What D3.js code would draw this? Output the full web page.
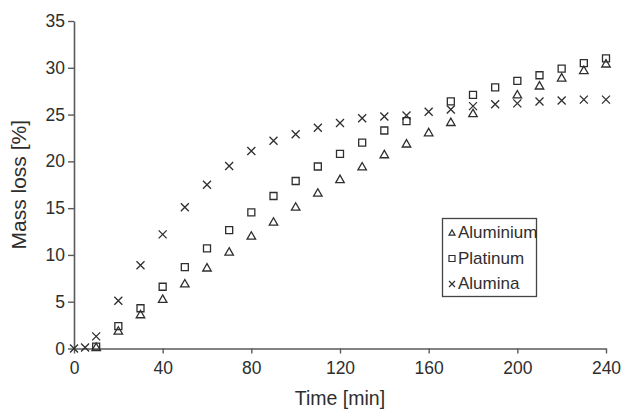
<!DOCTYPE html>
<html>
<head>
<meta charset="utf-8">
<script src="https://cdn.jsdelivr.net/npm/d3@7"></script>
<style>
  html, body { margin: 0; padding: 0; background: #fff; }
  svg { display: block; font-family: "Liberation Sans", Arial, sans-serif; }
</style>
</head>
<body>
<svg id="chart" width="623" height="411"></svg>
<script>
// Mass loss over time for three crucible materials
const timesAlumina = [0, 5, 10, 20, 30, 40, 50, 60, 70, 80, 90, 100, 110, 120, 130, 140, 150, 160, 170, 180, 190, 200, 210, 220, 230, 240];
const alumina = [0, 0.1, 1.3, 5.1, 8.9, 12.2, 15.1, 17.5, 19.5, 21.1, 22.2, 22.9, 23.6, 24.1, 24.6, 24.8, 24.9, 25.3, 25.55, 25.9, 26.1, 26.2, 26.4, 26.5, 26.6, 26.6];

const timesMetal = [10, 20, 30, 40, 50, 60, 70, 80, 90, 100, 110, 120, 130, 140, 150, 160, 170, 180, 190, 200, 210, 220, 230, 240];
// null: reading coincides with another series' marker
const platinum = [0.2, 2.4, 4.3, 6.6, 8.7, 10.7, 12.65, 14.55, 16.3, 17.9, 19.45, 20.8, 22.0, 23.3, 24.3, null, 26.4, 27.1, 27.9, 28.6, 29.2, 29.9, 30.5, 31.0];
const aluminium = [0.1, 1.85, 3.6, 5.25, 6.9, 8.6, 10.3, 12.0, 13.5, 15.1, 16.6, 18.05, 19.4, 20.7, 21.85, 23.05, 24.15, 25.1, null, 27.1, 28.05, 28.9, 29.7, 30.4];

const xTicks = [0, 40, 80, 120, 160, 200, 240];
const yTicks = [0, 5, 10, 15, 20, 25, 30, 35];
const legendLabels = ["Aluminium", "Platinum", "Alumina"];

const ink = "#2e2e2e";
const axisInk = "#5a5a5a";

const svg = d3.select("#chart");
const x = d3.scaleLinear().domain([0, 240]).range([74, 606]);
const y = d3.scaleLinear().domain([0, 35]).range([348.5, 21]);

// axes
const xAxis = svg.append("g").attr("transform", `translate(0,${y(0)})`)
  .call(d3.axisBottom(x).tickValues(xTicks).tickSize(5).tickPadding(8).tickSizeOuter(0));
const yAxis = svg.append("g").attr("transform", `translate(${x(0)},0)`)
  .call(d3.axisLeft(y).tickValues(yTicks).tickSize(6).tickPadding(3).tickSizeOuter(0));

[xAxis, yAxis].forEach(g => {
  g.select(".domain").attr("stroke", axisInk).attr("stroke-width", 1.6);
  g.selectAll(".tick line").attr("stroke", axisInk).attr("stroke-width", 1.4);
  g.selectAll(".tick text").attr("fill", ink).attr("font-size", 17.5)
    .attr("font-family", "Liberation Sans, Arial, sans-serif");
});

// axis titles
svg.append("text")
  .attr("x", (x(0) + x(240)) / 2).attr("y", 405)
  .attr("text-anchor", "middle").attr("fill", ink).attr("font-size", 19.5)
  .text("Time [min]");
svg.append("text")
  .attr("transform", `translate(26,${(y(0) + y(35)) / 2}) rotate(-90)`)
  .attr("text-anchor", "middle").attr("fill", ink).attr("font-size", 21)
  .text("Mass loss [%]");

// marker paths centred on origin
function markerPath(kind, s) {
  if (kind === "triangle") {
    const h = s * 0.87;
    return `M0,${-h * 0.6}L${s / 2},${h * 0.4}L${-s / 2},${h * 0.4}Z`;
  }
  if (kind === "square") {
    const a = s / 2;
    return `M${-a},${-a}H${a}V${a}H${-a}Z`;
  }
  const a = s / 2;
  return `M${-a},${-a}L${a},${a}M${a},${-a}L${-a},${a}`;
}

const series = [
  { kind: "square", times: timesMetal, values: platinum, size: 7 },
  { kind: "triangle", times: timesMetal, values: aluminium, size: 8.5 },
  { kind: "cross", times: timesAlumina, values: alumina, size: 8 }
];

series.forEach(sr => {
  const pts = sr.times.map((t, i) => ({ t, v: sr.values[i] })).filter(d => d.v !== null);
  svg.append("g").selectAll("path").data(pts).join("path")
    .attr("transform", d => `translate(${x(d.t)},${y(d.v)})`)
    .attr("d", markerPath(sr.kind, sr.size))
    .attr("fill", "none").attr("stroke", ink).attr("stroke-width", 1.3);
});

// legend
const lg = svg.append("g");
lg.append("rect").attr("x", 442.5).attr("y", 218.5).attr("width", 94).attr("height", 78)
  .attr("fill", "#fff").attr("stroke", "#444").attr("stroke-width", 1.3);
const legendKinds = ["triangle", "square", "cross"];
legendLabels.forEach((lab, i) => {
  const cy = 232 + i * 25.5;
  lg.append("path").attr("transform", `translate(452,${cy + 1})`)
    .attr("d", markerPath(legendKinds[i], 6))
    .attr("fill", "none").attr("stroke", ink).attr("stroke-width", 1.2);
  lg.append("text").attr("x", 458).attr("y", cy + 6)
    .attr("fill", ink).attr("font-size", 17).text(lab);
});
</script>
</body>
</html>
